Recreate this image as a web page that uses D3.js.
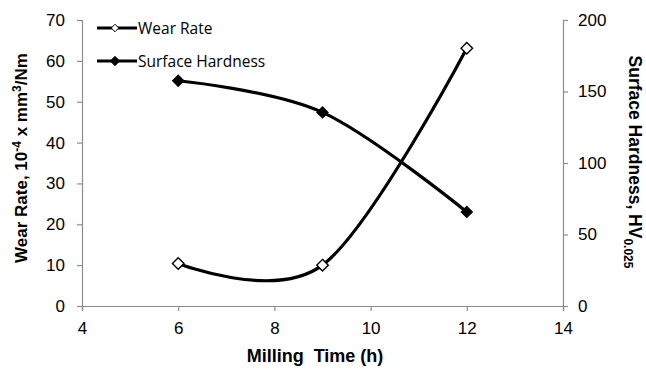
<!DOCTYPE html>
<html>
<head>
<meta charset="utf-8">
<script src="https://cdn.jsdelivr.net/npm/d3@7"></script>
<style>
body{margin:0;background:#fff;}
svg text{font-family:"Liberation Sans",Arial,sans-serif;}
</style>
</head>
<body>
<div class="canvas"></div>
<script>
// data
const millingTime = [6, 9, 12];
const wearRate = [10.4, 10, 63.1];
const surfaceHardness = [157.5, 135.4, 65.8];
const xTicks = [4, 6, 8, 10, 12, 14];
const leftTicks = [0, 10, 20, 30, 40, 50, 60, 70];
const rightTicks = [0, 50, 100, 150, 200];

const W = 646, H = 369;
const m = {t:20, r:83, b:63, l:82};

const svg = d3.select('.canvas').append('svg')
	.attr('width', W).attr('height', H);

const x = d3.scaleLinear().domain([4, 14]).range([m.l, W - m.r]);
const yL = d3.scaleLinear().domain([0, 70]).range([H - m.b, m.t]);
const yR = d3.scaleLinear().domain([0, 200]).range([H - m.b, m.t]);

const axisColor = '#8c8c8c';

function styleAxis(g){
	g.selectAll('path,line').attr('stroke', axisColor).attr('stroke-width', 1.2);
	g.selectAll('text').attr('fill', '#000').style('font-size', '17px');
}

svg.append('g')
	.attr('transform', `translate(0,${H - m.b})`)
	.call(d3.axisBottom(x).tickValues(xTicks).tickSize(5).tickSizeOuter(5).tickPadding(11))
	.call(styleAxis);

svg.append('g')
	.attr('transform', `translate(${m.l},0)`)
	.call(d3.axisLeft(yL).tickValues(leftTicks).tickSize(5).tickSizeOuter(5).tickPadding(12))
	.call(styleAxis);

svg.append('g')
	.attr('transform', `translate(${W - m.r},0)`)
	.call(d3.axisRight(yR).tickValues(rightTicks).tickSize(5).tickSizeOuter(5).tickPadding(10))
	.call(styleAxis);

const wearPts = millingTime.map((t,i)=>[x(t), yL(wearRate[i])]);
const hardPts = millingTime.map((t,i)=>[x(t), yR(surfaceHardness[i])]);

const line = d3.line().curve(d3.curveCardinal.tension(0));

svg.append('path').attr('d', line(hardPts))
	.attr('fill','none').attr('stroke','#000').attr('stroke-width',3.2);
svg.append('path').attr('d', line(wearPts))
	.attr('fill','none').attr('stroke','#000').attr('stroke-width',3.2);

const diamond = d3.symbol().type(d3.symbolDiamond2);

svg.selectAll('.wear').data(wearPts).enter().append('path')
	.attr('class','wear')
	.attr('transform', d=>`translate(${d[0]},${d[1]})`)
	.attr('d', diamond.size(85)())
	.attr('fill','#fff').attr('stroke','#000').attr('stroke-width',1.4);

svg.selectAll('.hard').data(hardPts).enter().append('path')
	.attr('class','hard')
	.attr('transform', d=>`translate(${d[0]},${d[1]})`)
	.attr('d', diamond.size(105)())
	.attr('fill','#000');

// legend
const legend = [
	{name:'Wear Rate', fill:'#fff', size:36, y:28},
	{name:'Surface Hardness', fill:'#000', size:55, y:61}
];
const lg = svg.append('g');
legend.forEach(d=>{
	lg.append('line').attr('x1',97).attr('x2',137).attr('y1',d.y).attr('y2',d.y)
		.attr('stroke','#000').attr('stroke-width',3);
	lg.append('path').attr('transform',`translate(115,${d.y})`)
		.attr('d', diamond.size(d.size)())
		.attr('fill',d.fill).attr('stroke','#000').attr('stroke-width',1);
	lg.append('text').attr('x',138).attr('y',d.y+5.5)
		.style('font-family','"Open Sans",sans-serif').style('font-size','15.5px')
		.text(d.name);
});

// axis titles
svg.append('text')
	.attr('transform',`translate(27,158) rotate(-90)`)
	.attr('text-anchor','middle')
	.style('font-size','17px').style('font-weight','bold')
	.html('Wear Rate, 10<tspan dy="-6" font-size="12">-4</tspan><tspan dy="6"> x mm</tspan><tspan dy="-6" font-size="12">3</tspan><tspan dy="6">/Nm</tspan>');

svg.append('text')
	.attr('transform',`translate(629,162) rotate(90)`)
	.attr('text-anchor','middle')
	.style('font-size','17.5px').style('font-weight','bold')
	.html('Surface Hardness, HV<tspan dy="5" font-size="12">0.025</tspan>');

svg.append('text')
	.attr('x', 315).attr('y', 362)
	.attr('text-anchor','middle')
	.attr('xml:space','preserve')
	.style('font-size','18px').style('font-weight','bold')
	.text('Milling  Time (h)');
</script>
</body>
</html>
